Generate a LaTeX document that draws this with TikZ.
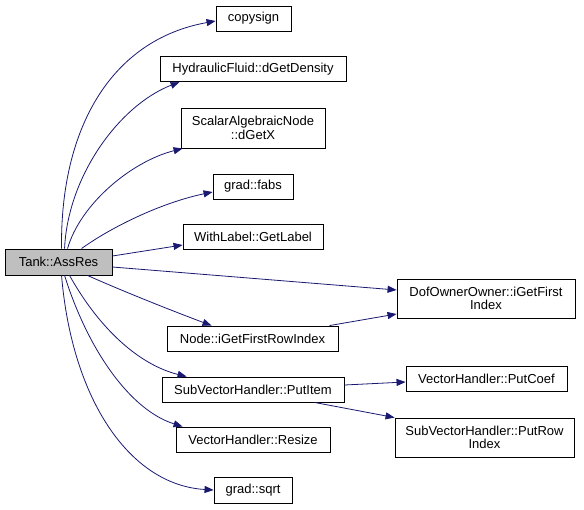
\documentclass[tikz,border=0pt]{standalone}
\usepackage{fontspec}
\setmainfont{Liberation Sans}
\usetikzlibrary{arrows.meta}
\definecolor{edgeblue}{HTML}{191970}
\definecolor{rootgray}{HTML}{BFBFBF}
\tikzset{
  fbox/.style={draw=black, fill=white, line width=0.9pt, inner sep=0pt, align=center,
    font=\fontsize{13}{13.5}\selectfont},
  rootbox/.style={fbox, fill=rootgray},
  call/.style={draw=edgeblue, line width=0.8pt, -{Triangle[length=9pt,width=7pt,fill=edgeblue]}},
}
\begin{document}
\begin{tikzpicture}[x=1pt,y=-1pt]
\useasboundingbox (0,0) rectangle (584,509);
\node[rootbox, minimum width=107pt, minimum height=26pt] (root) at (58.5,262) {Tank::AssRes};
\node[fbox, minimum width=75pt, minimum height=25pt] (copysign) at (253.5,18.5) {copysign};
\node[fbox, minimum width=186pt, minimum height=25pt] (dens) at (253,69) {HydraulicFluid::dGetDensity};
\node[fbox, minimum width=144pt, minimum height=40pt] (dgetx) at (253,128) {ScalarAlgebraicNode\\::dGetX};
\node[fbox, minimum width=80pt, minimum height=25pt] (fabs) at (253,186.5) {grad::fabs};
\node[fbox, minimum width=140pt, minimum height=25pt] (getlabel) at (253,236.5) {WithLabel::GetLabel};
\node[fbox, minimum width=178pt, minimum height=39pt] (dof) at (486,298.5) {DofOwnerOwner::iGetFirst\\Index};
\node[fbox, minimum width=171pt, minimum height=25pt] (rowidx) at (252.5,338.5) {Node::iGetFirstRowIndex};
\node[fbox, minimum width=182pt, minimum height=25pt] (putitem) at (253,389.5) {SubVectorHandler::PutItem};
\node[fbox, minimum width=154pt, minimum height=25pt] (resize) at (253,439.5) {VectorHandler::Resize};
\node[fbox, minimum width=78pt, minimum height=26pt] (sqrt) at (253,490) {grad::sqrt};
\node[fbox, minimum width=161pt, minimum height=25pt] (putcoef) at (486.5,378.5) {VectorHandler::PutCoef};
\node[fbox, minimum width=179pt, minimum height=39pt] (putrow) at (484.5,437.5) {SubVectorHandler::PutRow\\Index};

\draw[call] ([xshift=57pt]root.north west) .. controls (60,130) and (110,40) .. ([yshift=-2.5pt]copysign.west);
\draw[call] ([xshift=60pt]root.north west) .. controls (68,175) and (120,105) .. ([xshift=20pt]dens.south west);
\draw[call] ([xshift=63pt]root.north west) .. controls (80,205) and (130,162) .. ([xshift=2pt]dgetx.south west);
\draw[call] ([xshift=77pt]root.north west) .. controls (110,228) and (160,203) .. ([yshift=-5.5pt]fabs.west);
\draw[call] ([yshift=6pt]root.east) -- ([yshift=-8.5pt]getlabel.west);
\draw[call] ([yshift=-5pt]root.east) -- ([yshift=8.5pt]dof.west);
\draw[call] ([xshift=83pt]root.south west) .. controls (120,290) and (170,310) .. ([xshift=45pt]rowidx.north west);
\draw[call] ([xshift=65pt]root.south west) .. controls (100,330) and (140,365) .. ([xshift=25pt]putitem.north west);
\draw[call] ([xshift=60pt]root.south west) .. controls (88,350) and (130,410) .. ([xshift=7pt]resize.north west);
\draw[call] ([xshift=57pt]root.south west) .. controls (72,400) and (130,485) .. (sqrt.west);
\draw[call] ([xshift=163pt]rowidx.north west) -- ([yshift=-15.5pt]dof.west);
\draw[call] ([yshift=4.5pt]putitem.east) -- ([yshift=-3.5pt]putcoef.west);
\draw[call] ([xshift=153pt]putitem.south west) -- (putrow.north west);
\end{tikzpicture}
\end{document}
